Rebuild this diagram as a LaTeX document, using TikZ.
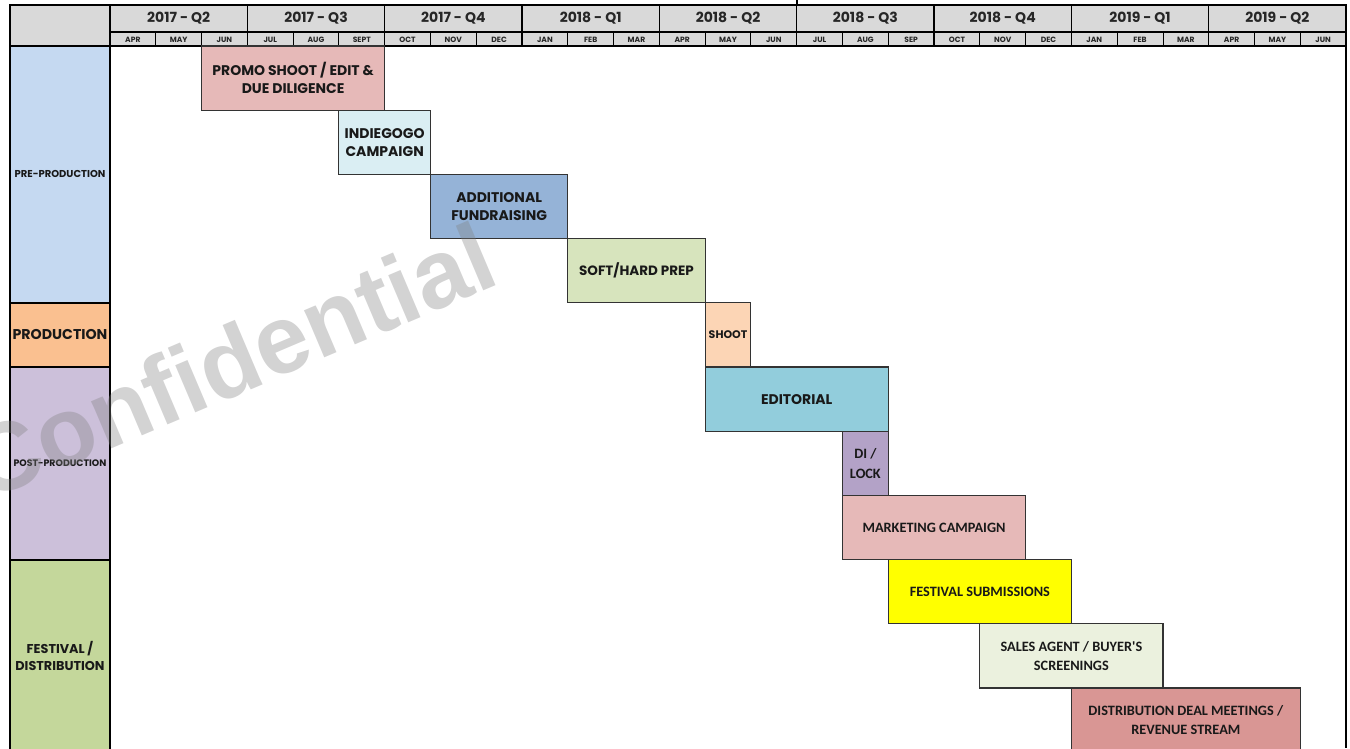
\documentclass[tikz,border=0pt]{standalone}
\usepackage{fontspec}
\setmainfont{Poppins}
\newfontfamily\calfont{Carlito}[Ligatures=TeXOff]
\newfontfamily\wmfont{Liberation Sans}
\usepackage{tikz}

\definecolor{hdr}{HTML}{D9D9D9}
\definecolor{pre}{HTML}{C5D9F1}
\definecolor{prod}{HTML}{FAC090}
\definecolor{post}{HTML}{CCC0DA}
\definecolor{fest}{HTML}{C4D79B}
\definecolor{promo}{HTML}{E6B9B8}
\definecolor{indie}{HTML}{DAEEF3}
\definecolor{funds}{HTML}{95B3D7}
\definecolor{prep}{HTML}{D7E4BD}
\definecolor{shoot}{HTML}{FCD5B5}
\definecolor{edit}{HTML}{92CDDC}
\definecolor{lock}{HTML}{B3A2C7}
\definecolor{market}{HTML}{E6B9B8}
\definecolor{submit}{HTML}{FFFF00}
\definecolor{sales}{HTML}{EBF1DE}
\definecolor{distrib}{HTML}{D99694}

\newcommand{\monthw}{45.78}
\newcommand{\rowh}{64.2}
\newcommand{\fsz}[1]{\fontsize{#1}{\dimexpr #1pt*5/4\relax}\selectfont}

\begin{document}
\begin{tikzpicture}[x=1pt,y=-1pt,
  task/.style={draw=black!80, line width=1.1pt, anchor=north west, outer sep=0pt,
    inner sep=2pt, minimum height=\rowh pt, align=center, text=black!90,
    font=\bfseries\fontsize{14}{18.5}\selectfont},
  calib/.style={font=\calfont\bfseries\fontsize{14.3}{19.5}\selectfont},
  phase/.style={draw=black, line width=1.8pt, anchor=north west, outer sep=0pt,
    inner sep=1pt, minimum width=100pt, align=center, text=black!90},
  qlabel/.style={font=\bfseries\fontsize{14}{14}\selectfont, text=black!85},
  mlabel/.style={font=\bfseries\fontsize{7.6}{8}\selectfont, text=black!85}]
\clip (0,0) rectangle (1350,748);
\useasboundingbox (0,0) rectangle (1350,748);

% header
\fill[hdr] (10,5) rectangle (1346,46);
\foreach \q [count=\i from 0] in {2017 - Q2,2017 - Q3,2017 - Q4,2018 - Q1,2018 - Q2,
    2018 - Q3,2018 - Q4,2019 - Q1,2019 - Q2}
  \node[qlabel] (q\i) at ({110+(3*\i+1.5)*\monthw},18.5) {\q};
\foreach \m [count=\i from 0] in {APR,MAY,JUN,JUL,AUG,SEPT,OCT,NOV,DEC,JAN,FEB,MAR,
    APR,MAY,JUN,JUL,AUG,SEP,OCT,NOV,DEC,JAN,FEB,MAR,APR,MAY,JUN}
  \node[mlabel] (m\i) at ({110+(\i+0.5)*\monthw},39.5) {\m};
\foreach \i in {1,...,26}
  \draw[line width=0.9pt] ({110+\i*\monthw},32) -- ({110+\i*\monthw},46);
\foreach \i in {0,...,8}
  \draw[line width=1.5pt] ({110+3*\i*\monthw},5) -- ({110+3*\i*\monthw},46);
\draw[line width=1.2pt] (110,32) -- (1346,32);
\draw[line width=1.8pt] (10,5) rectangle (1346,46);
\draw[line width=1.2pt] (797,0) -- (797,5);
\draw[line width=1.5pt] (1346,46) -- (1346,748);

% tasks
\node[task, fill=promo, minimum width=4*\monthw] (promo) at ({110+2*\monthw},46)
  {PROMO SHOOT / EDIT \&\\DUE DILIGENCE};
\node[task, fill=indie, minimum width=2*\monthw] (indie) at ({110+5*\monthw},{46+\rowh})
  {INDIEGOGO\\CAMPAIGN};
\node[task, fill=funds, minimum width=3*\monthw] (funds) at ({110+7*\monthw},{46+2*\rowh})
  {ADDITIONAL\\FUNDRAISING};
\node[task, fill=prep, minimum width=3*\monthw, font=\bfseries\fontsize{13.5}{17}\selectfont]
  (prep) at ({110+10*\monthw},{46+3*\rowh}) {SOFT/HARD PREP};
\node[task, fill=shoot, minimum width=\monthw, inner sep=0pt,
  font=\bfseries\fontsize{11}{12}\selectfont] (shoot) at ({110+13*\monthw},{46+4*\rowh}) {SHOOT};
\node[task, fill=edit, minimum width=4*\monthw] (edit) at ({110+13*\monthw},{46+5*\rowh})
  {EDITORIAL};
\node[task, calib, fill=lock, minimum width=\monthw] (lock) at ({110+16*\monthw},{46+6*\rowh})
  {DI /\\LOCK};
\node[task, calib, fill=market, minimum width=4*\monthw] (market) at ({110+16*\monthw},{46+7*\rowh})
  {MARKETING CAMPAIGN};
\node[task, calib, fill=submit, minimum width=4*\monthw] (submit) at ({110+17*\monthw},{46+8*\rowh})
  {FESTIVAL SUBMISSIONS};
\node[task, calib, fill=sales, minimum width=4*\monthw] (sales) at ({110+19*\monthw},{46+9*\rowh})
  {SALES AGENT / BUYER'S\\SCREENINGS};
\node[task, calib, fill=distrib, minimum width=5*\monthw] (distrib) at ({110+21*\monthw},{46+10*\rowh})
  {DISTRIBUTION DEAL MEETINGS /\\REVENUE STREAM};

% phases
\node[phase, fill=pre, minimum height=4*\rowh, font=\bfseries\fsz{10}] (pre) at (10,46) {PRE-PRODUCTION};
\node[phase, fill=prod, minimum height=\rowh, font=\bfseries\fsz{14.2}] (prod) at (10,{46+4*\rowh}) {PRODUCTION};
\node[phase, fill=post, minimum height=3*\rowh, font=\bfseries\fsz{9.4}] (post) at (10,{46+5*\rowh}) {POST-PRODUCTION};
\node[phase, fill=fest, minimum height=3*\rowh, font=\bfseries\fontsize{12.8}{17}\selectfont] (fest) at (10,{46+8*\rowh}) {FESTIVAL /\\DISTRIBUTION};

% watermark
\node[anchor=base west, rotate=23, text=gray, opacity=0.35, inner sep=0pt,
  font=\wmfont\bfseries\fontsize{97}{97}\selectfont] (wm) at (-14,502) {Confidential};
\end{tikzpicture}
\end{document}
